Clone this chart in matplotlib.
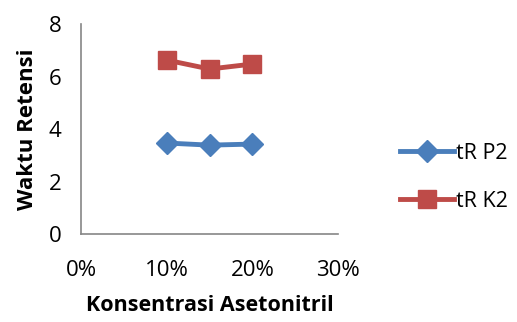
import matplotlib
matplotlib.use("Agg")
import matplotlib.pyplot as plt
from matplotlib.ticker import FuncFormatter

x_vals = [0.10, 0.15, 0.20]
tr_p2 = [3.47, 3.39, 3.43]
tr_k2 = [6.63, 6.29, 6.48]
x_ticks = [0.0, 0.1, 0.2, 0.3]
y_ticks = [0, 2, 4, 6, 8]

plt.rcParams['font.family'] = ['Open Sans', 'DejaVu Sans']

fig = plt.figure(figsize=(5.17, 3.22), dpi=100)
ax = fig.add_axes([0.157, 0.273, 0.497, 0.652])

ax.plot(x_vals, tr_p2, color='#4a7ebb', lw=3.5, marker='D', markersize=11, label='tR P2')
ax.plot(x_vals, tr_k2, color='#be4b48', lw=3.5, marker='s', markersize=13, label='tR K2')

ax.set_xlim(0, 0.3)
ax.set_ylim(0, 8)
ax.set_xticks(x_ticks)
ax.set_yticks(y_ticks)
ax.xaxis.set_major_formatter(FuncFormatter(lambda v, p: f"{round(v*100)}%"))
ax.tick_params(axis='both', length=0, labelsize=16)
ax.tick_params(axis='x', pad=19)
ax.tick_params(axis='y', pad=14)
for s in ['top', 'right']:
    ax.spines[s].set_visible(False)
for s in ['left', 'bottom']:
    ax.spines[s].set_color('#868686')
    ax.spines[s].set_linewidth(1.2)

ax.set_xlabel('Konsentrasi Asetonitril', fontsize=15.5, fontweight='bold', labelpad=10)
ax.set_ylabel('Waktu Retensi', fontsize=16, fontweight='bold', labelpad=8)

leg = ax.legend(loc='center left', bbox_to_anchor=(1.165, 0.27), frameon=False,
                fontsize=15.5, handlelength=2.5, labelspacing=1.25, handletextpad=0.1)

fig.savefig('out.png', dpi=100)
